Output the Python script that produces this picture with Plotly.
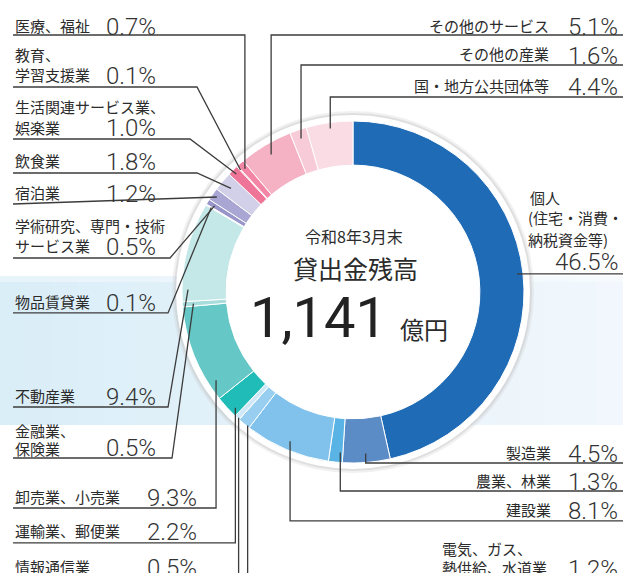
import math
import plotly.graph_objects as go

# ---------------- data ----------------
categories = [
    "個人（住宅・消費・納税資金等）", "製造業", "農業、林業", "建設業",
    "電気、ガス、熱供給、水道業", "情報通信業", "運輸業、郵便業", "卸売業、小売業",
    "金融業、保険業", "不動産業", "物品賃貸業", "学術研究、専門・技術サービス業",
    "宿泊業", "飲食業", "生活関連サービス業、娯楽業", "教育、学習支援業",
    "医療、福祉", "その他のサービス", "その他の産業", "国・地方公共団体等",
]
values = [46.5, 4.5, 1.3, 8.1, 1.2, 0.5, 2.2, 9.3, 0.5, 9.4,
          0.1, 0.5, 1.2, 1.8, 1.0, 0.1, 0.7, 5.1, 1.6, 4.4]
colors = ["#1f6bb5", "#5b8cc6", "#5ab3e5", "#80c2eb", "#98cff0", "#d0e8f7",
          "#20bdb8", "#66c7c7", "#a9dcdc", "#c4e7e7", "#e4f3f3", "#9895cb",
          "#a9a6d4", "#d1d0e8", "#ef7598", "#f49ab3", "#f386a6", "#f5b2c5",
          "#f8cbd8", "#fadce5"]
total_text = "1,141"
title_top = "令和8年3月末"
title_mid = "貸出金残高"
unit_text = "億円"

# ---------------- layout constants ----------------
W, H = 623, 573
CX, CY, R = 353, 292, 171
HOLE = 0.742
TXT = "#2b2b2b"
LINE = "#3c3c3c"
FONT = "Noto Sans CJK JP"
NUMFONT = "Roboto, Noto Sans CJK JP"
NAME_SIZE = 15
PCT_SIZE = 24
PCT_DY = 2


def px(x):
    return x / W


def py(y):
    return 1 - y / H


# label layout: name lines (text, x, y, anchor), pct (x, y, anchor), anchor spec, route
# route kinds: v = vertical from anchor then horizontal; d = diagonal to bend then horizontal;
# h = horizontal from anchor; s = straight from anchor to end point
labels = {
    0: dict(names=[("個人", 528, 197, "left"), ("(住宅・消費・", 526, 218, "left"),
                   ("納税資金等)", 526, 239, "left")],
            pct=(620, 260, "right"), frac=0.5, r=165, route=("h", None, 274, 623)),
    1: dict(names=[("製造業", 553, 452, "right")], pct=(620, 452, "right"),
            frac=0.5, r=162, route=("v", None, 463, 623)),
    2: dict(names=[("農業、林業", 553, 480, "right")], pct=(620, 480, "right"),
            frac=0.2, r=161, route=("v", None, 491, 623)),
    3: dict(names=[("建設業", 553, 509, "right")], pct=(620, 509, "right"),
            frac=0.5, r=162, route=("v", None, 521, 623)),
    4: dict(names=[("電気、ガス、", 440, 548, "left"), ("熱供給、水道業", 440, 567, "left")],
            pct=(620, 567, "right"), frac=0.2, r=170, route=("v", None, 585, 623)),
    5: dict(names=[("情報通信業", 13, 566, "left")], pct=(199, 566, "right"),
            frac=0.3, r=170, route=("v", None, 585, 13)),
    6: dict(names=[("運輸業、郵便業", 13, 530, "left")], pct=(199, 530, "right"),
            frac=0.24, r=165, route=("v", None, 543, 13)),
    7: dict(names=[("卸売業、小売業", 13, 496, "left")], pct=(199, 496, "right"),
            frac=0.17, r=163, route=("v", None, 508, 13)),
    8: dict(names=[("金融業、", 13, 430, "left"), ("保険業", 13, 448, "left")],
            pct=(158, 446, "right"), frac=0.5, r=160, route=("d", 172, 458, 13)),
    9: dict(names=[("不動産業", 13, 395, "left")], pct=(158, 395, "right"),
            frac=0.12, r=165, route=("d", 168, 407, 13)),
    10: dict(names=[("物品賃貸業", 13, 301, "left")], pct=(158, 301, "right"),
             frac=0.5, r=165, route=("d", 168, 313, 13)),
    11: dict(names=[("学術研究、専門・技術", 13, 225, "left"), ("サービス業", 13, 245, "left")],
             pct=(158, 245, "right"), frac=0.5, r=163, route=("d", 170, 258, 13)),
    12: dict(names=[("宿泊業", 13, 192, "left")], pct=(158, 192, "right"),
             frac=0.5, r=166, route=("s", None, 204, 13)),
    13: dict(names=[("飲食業", 13, 160, "left")], pct=(158, 160, "right"),
             frac=0.5, r=160, route=("d", 197, 173, 13)),
    14: dict(names=[("生活関連サービス業、", 13, 106, "left"), ("娯楽業", 13, 127, "left")],
             pct=(158, 126, "right"), frac=0.5, r=166, route=("d", 190, 139, 13)),
    15: dict(names=[("教育、", 13, 55, "left"), ("学習支援業", 13, 74, "left")],
             pct=(158, 74, "right"), frac=0.5, r=166, route=("d", 197, 87, 13)),
    16: dict(names=[("医療、福祉", 13, 25, "left")], pct=(158, 25, "right"),
             frac=0.5, r=164, route=("v", None, 35, 13)),
    17: dict(names=[("その他のサービス", 551, 25, "right")], pct=(620, 25, "right"),
             frac=0.5, r=160, route=("v", None, 35, 623)),
    18: dict(names=[("その他の産業", 551, 54, "right")], pct=(620, 54, "right"),
             frac=0.5, r=162, route=("v", None, 65, 623)),
    19: dict(names=[("国・地方公共団体等", 551, 85, "right")], pct=(620, 85, "right"),
             frac=0.5, r=165, route=("v", None, 97, 623)),
}

fig = go.Figure()
fig.add_trace(go.Pie(
    labels=categories, values=values, sort=False, direction="clockwise",
    rotation=0, hole=HOLE, textinfo="none", hoverinfo="label+percent",
    marker=dict(colors=colors, line=dict(color="white", width=1)),
    domain=dict(x=[px(CX - R), px(CX + R)], y=[py(CY + R), py(CY - R)]),
    showlegend=False,
))

shapes = []
# background band (horizontal gradient approximated with strips)
N = 24
c0 = (218, 238, 248)
c1 = (241, 247, 252)
for k in range(N):
    t = k / (N - 1)
    col = tuple(round(c0[j] + (c1[j] - c0[j]) * t) for j in range(3))
    shapes.append(dict(type="rect", xref="paper", yref="paper", layer="below",
                       x0=px(W * k / N), x1=px(W * (k + 1) / N + 1),
                       y0=py(425), y1=py(276), line=dict(width=0),
                       fillcolor="rgb(%d,%d,%d)" % col))
# soft top edge of band
shapes.append(dict(type="rect", xref="paper", yref="paper", layer="below",
                   x0=0, x1=1, y0=py(282), y1=py(276), line=dict(width=0),
                   fillcolor="rgba(255,255,255,0.35)"))


def circle(rad, fill, line=None):
    return dict(type="circle", xref="paper", yref="paper", layer="below",
                x0=px(CX - rad), x1=px(CX + rad), y0=py(CY + rad), y1=py(CY - rad),
                fillcolor=fill, line=line or dict(width=0))


shapes.append(circle(181, "rgba(200,200,200,0.25)"))
shapes.append(circle(179, "rgba(190,190,190,0.35)"))
shapes.append(circle(177, "white"))

# leader lines
total = sum(values)
cum = 0.0
starts = []
for v in values:
    starts.append(cum)
    cum += v

for i, spec in labels.items():
    frac_pos = (starts[i] + spec["frac"] * values[i]) / total
    ang = 2 * math.pi * frac_pos
    ax = CX + spec["r"] * math.sin(ang)
    ay = CY - spec["r"] * math.cos(ang)
    kind, bx, ly, xend = spec["route"]
    if kind == "v":
        pts = [(ax, ay), (ax, ly), (xend, ly)]
    elif kind == "d":
        pts = [(ax, ay), (bx, ly), (xend, ly)]
    elif kind == "h":
        pts = [(ax, ay), (xend, ay)]
    else:
        pts = [(ax, ay), (xend, ly)]
    path = "M " + " L ".join("%.4f,%.4f" % (px(x), py(y)) for x, y in pts)
    shapes.append(dict(type="path", xref="paper", yref="paper", path=path,
                       line=dict(color=LINE, width=1.3), layer="above"))

annotations = []
for i, spec in labels.items():
    for text, x, y, anc in spec["names"]:
        annotations.append(dict(text=text, x=px(x), y=py(y), xref="paper", yref="paper",
                                xanchor=anc, yanchor="middle", showarrow=False,
                                font=dict(family=FONT, size=NAME_SIZE, color=TXT)))
    x, y, anc = spec["pct"]
    annotations.append(dict(text="%.1f%%" % values[i], x=px(x), y=py(y + PCT_DY),
                            xref="paper", yref="paper", xanchor=anc, yanchor="middle",
                            showarrow=False,
                            font=dict(family=NUMFONT, size=PCT_SIZE, color="#333333",
                                      weight=300)))

# center text
annotations.append(dict(text=title_top, x=px(354), y=py(236), xref="paper", yref="paper",
                        xanchor="center", yanchor="middle", showarrow=False,
                        font=dict(family=FONT, size=16, color=TXT)))
annotations.append(dict(text=title_mid, x=px(355), y=py(268), xref="paper", yref="paper",
                        xanchor="center", yanchor="middle", showarrow=False,
                        font=dict(family=FONT, size=25, color=TXT)))
annotations.append(dict(text=total_text, x=px(389), y=py(318), xref="paper", yref="paper",
                        xanchor="right", yanchor="middle", showarrow=False,
                        font=dict(family=NUMFONT, size=56, color="#222222", weight=400)))
annotations.append(dict(text=unit_text, x=px(398), y=py(328), xref="paper", yref="paper",
                        xanchor="left", yanchor="middle", showarrow=False,
                        font=dict(family=FONT, size=24, color=TXT)))

fig.update_layout(
    width=W, height=H, margin=dict(l=0, r=0, t=0, b=0),
    paper_bgcolor="white", plot_bgcolor="white",
    shapes=shapes, annotations=annotations,
    font=dict(family=FONT),
)
fig.write_html("out.html")
